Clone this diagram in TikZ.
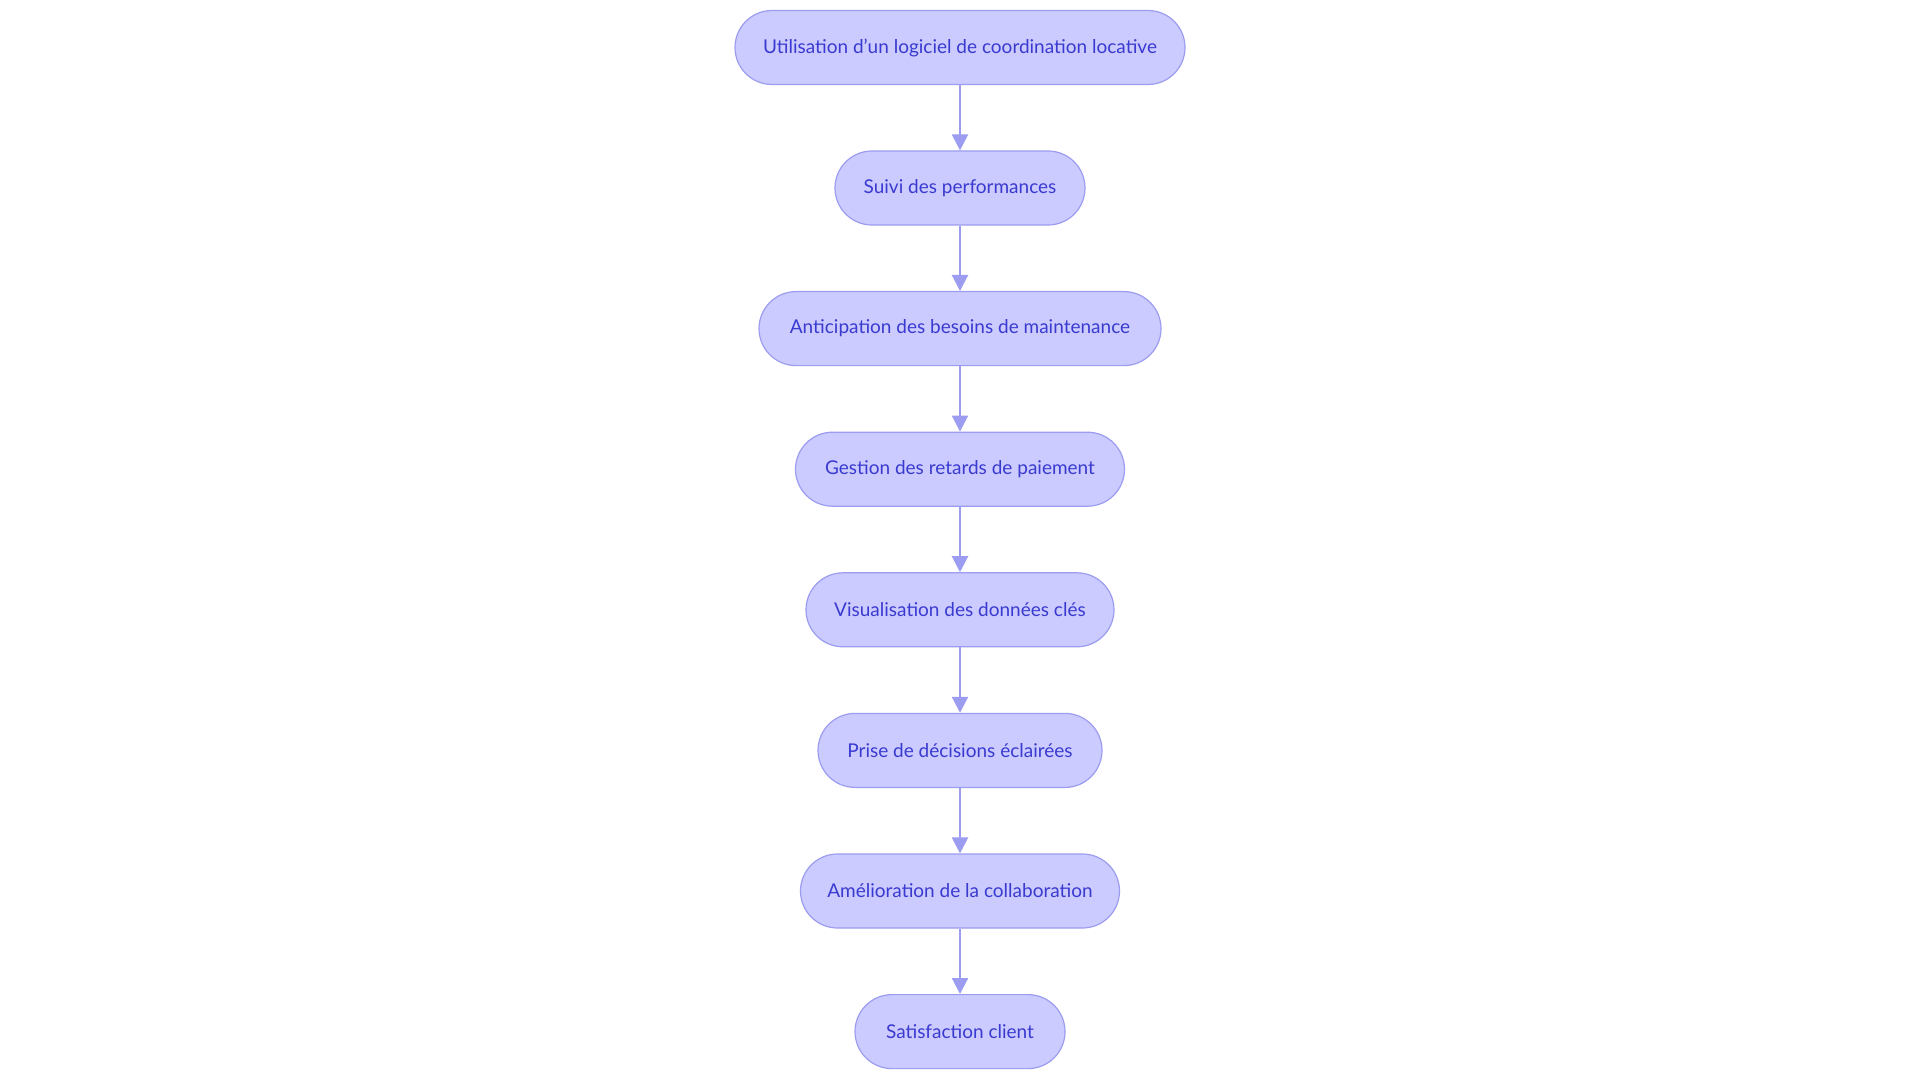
\documentclass[tikz,border=0pt]{standalone}
\usepackage{fontspec}
\setmainfont{Lato}
\usetikzlibrary{arrows.meta}
\definecolor{nodefill}{HTML}{CBCBFF}
\definecolor{nodedraw}{HTML}{9C9CF0}
\definecolor{nodetext}{HTML}{3A3AD0}
\begin{document}
\begin{tikzpicture}[x=1pt,y=-1pt,
  stadium/.style={draw=nodedraw,fill=nodefill,line width=1.2pt,rounded corners=37pt,
    minimum height=74pt,inner sep=0pt,text=nodetext,font=\fontsize{19}{23}\selectfont},
  flow/.style={draw=nodedraw,line width=2.2pt,-{Triangle[width=16pt,length=16pt]}}]
\useasboundingbox[fill=white] (0,0) rectangle (1920,1083);
\node[stadium,minimum width=450pt] (n1) at (960,47.5) {Utilisation d'un logiciel de coordination locative};
\node[stadium,minimum width=250pt] (n2) at (960,188) {Suivi des performances};
\node[stadium,minimum width=402pt] (n3) at (960,328.6) {Anticipation des besoins de maintenance};
\node[stadium,minimum width=329pt] (n4) at (960,469.2) {Gestion des retards de paiement};
\node[stadium,minimum width=308pt] (n5) at (960,609.8) {Visualisation des données clés};
\node[stadium,minimum width=284pt] (n6) at (960,750.4) {Prise de décisions éclairées};
\node[stadium,minimum width=319pt] (n7) at (960,891) {Amélioration de la collaboration};
\node[stadium,minimum width=210pt] (n8) at (960,1031.6) {Satisfaction client};
\draw[flow] (n1) -- (n2);
\draw[flow] (n2) -- (n3);
\draw[flow] (n3) -- (n4);
\draw[flow] (n4) -- (n5);
\draw[flow] (n5) -- (n6);
\draw[flow] (n6) -- (n7);
\draw[flow] (n7) -- (n8);
\end{tikzpicture}
\end{document}
